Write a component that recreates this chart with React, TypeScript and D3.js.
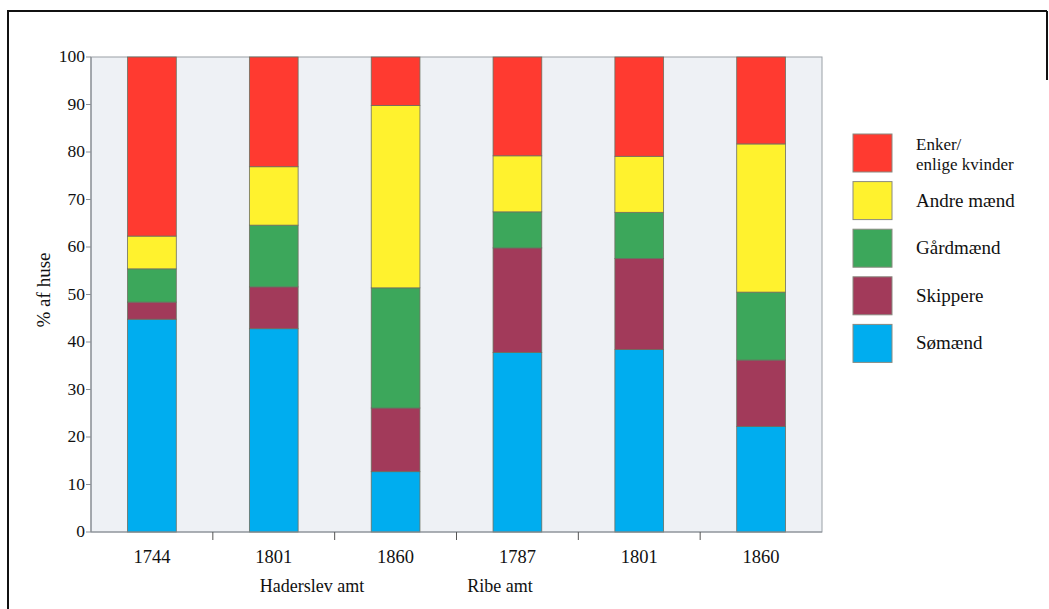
import React from "react";
import * as d3 from "d3";

const categories = ["1744", "1801", "1860", "1787", "1801", "1860"];
const groups = ["Haderslev amt", "Ribe amt"];
const seriesNames = ["Sømænd", "Skippere", "Gårdmænd", "Andre mænd", "Enker/ enlige kvinder"];
const somaend = [44.8, 42.8, 12.7, 37.8, 38.4, 22.2];
const skippere = [3.6, 8.8, 13.4, 22.0, 19.2, 14.0];
const gaardmaend = [7.0, 13.0, 25.3, 7.6, 9.7, 14.3];
const andreMaend = [6.9, 12.3, 38.4, 11.8, 11.8, 31.2];
const enker = [37.7, 23.1, 10.2, 20.8, 20.9, 18.3];
const yTicks = [0, 10, 20, 30, 40, 50, 60, 70, 80, 90, 100];
const colors = ["#00adef", "#a23a5a", "#3ca75b", "#fff22e", "#ff3a30"];

const W = 1049, H = 609;
const M = { left: 91, right: 822, top: 57, bottom: 532 };
const FONT = "'Liberation Serif', 'Times New Roman', serif";

export default function App() {
  const seriesValues = [somaend, skippere, gaardmaend, andreMaend, enker];
  const rows = categories.map((c, i) => {
    const r: any = { idx: i };
    seriesValues.forEach((s, k) => (r["s" + k] = s[i]));
    return r;
  });
  const keys = seriesValues.map((_, k) => "s" + k);
  const stacked = d3.stack().keys(keys)(rows);
  const x = d3.scaleBand<number>().domain(categories.map((_, i) => i)).range([M.left, M.right]).paddingInner(0.6).paddingOuter(0.3);
  const xb = d3.scaleBand<number>().domain(categories.map((_, i) => i)).range([M.left, M.right]);
  const y = d3.scaleLinear().domain([0, 100]).range([M.bottom, M.top]);
  const axisGray = "#8a8f95";

  const legendOrder = [4, 3, 2, 1, 0];
  const legY = d3.scaleBand<number>().domain(legendOrder).range([130, 368]);

  return (
    <svg width={W} height={H} style={{ position: "absolute", left: 0, top: 0, background: "#fff" }} fontFamily={FONT}>
      <line x1={7} y1={11} x2={1047} y2={11} stroke="#111" strokeWidth={2} />
      <line x1={8} y1={10} x2={8} y2={609} stroke="#111" strokeWidth={2} />
      <line x1={1047} y1={11} x2={1047} y2={80} stroke="#111" strokeWidth={2} />
      <rect x={M.left} y={M.top} width={M.right - M.left} height={M.bottom - M.top} fill="#eef1f5" stroke="#9aa0a6" strokeWidth={1} />
      {stacked.map((layer, k) =>
        layer.map((d, i) => (
          <rect key={k + "-" + i} x={x(i)} width={x.bandwidth()} y={y(d[1])} height={y(d[0]) - y(d[1])}
            fill={colors[k]} stroke="#6b6f60" strokeWidth={0.8} />
        ))
      )}
      <line x1={M.left} y1={M.top} x2={M.left} y2={M.bottom} stroke={axisGray} strokeWidth={1.2} />
      {yTicks.map((t) => (
        <g key={t}>
          <line x1={M.left - 5} x2={M.left} y1={y(t)} y2={y(t)} stroke={axisGray} strokeWidth={1} />
          <text x={M.left - 6} y={y(t) + 5} textAnchor="end" fontSize={17.5} fill="#111">{t}</text>
        </g>
      ))}
      <line x1={M.left} y1={M.bottom} x2={M.right} y2={M.bottom} stroke={axisGray} strokeWidth={1.2} />
      {categories.slice(1).map((_, i) => (
        <line key={i} x1={xb(i + 1)} x2={xb(i + 1)} y1={M.bottom} y2={M.bottom + 8} stroke="#555" strokeWidth={1} />
      ))}
      {categories.map((c, i) => (
        <text key={i} x={xb(i)! + xb.bandwidth() / 2} y={563} textAnchor="middle" fontSize={18.5} fill="#111">{c}</text>
      ))}
      <text x={312} y={592} textAnchor="middle" fontSize={18} fill="#111">{groups[0]}</text>
      <text x={500} y={592} textAnchor="middle" fontSize={18} fill="#111">{groups[1]}</text>
      <text transform="translate(50,290) rotate(-90)" textAnchor="middle" fontSize={19} fill="#111">% af huse</text>
      {legendOrder.map((k) => {
        const top = legY(k)! + 4;
        const name = seriesNames[k];
        const lines = k === 4 ? ["Enker/", "enlige kvinder"] : [name];
        return (
          <g key={k}>
            <rect x={853} y={top} width={39} height={38} fill={colors[k]} stroke="#8a8a80" strokeWidth={1} />
            {lines.length === 1 ? (
              <text x={916} y={top + 25} fontSize={19} fill="#111">{lines[0]}</text>
            ) : (
              <>
                <text x={916} y={top + 16} fontSize={17} fill="#111">{lines[0]}</text>
                <text x={916} y={top + 36} fontSize={17} fill="#111">{lines[1]}</text>
              </>
            )}
          </g>
        );
      })}
    </svg>
  );
}
